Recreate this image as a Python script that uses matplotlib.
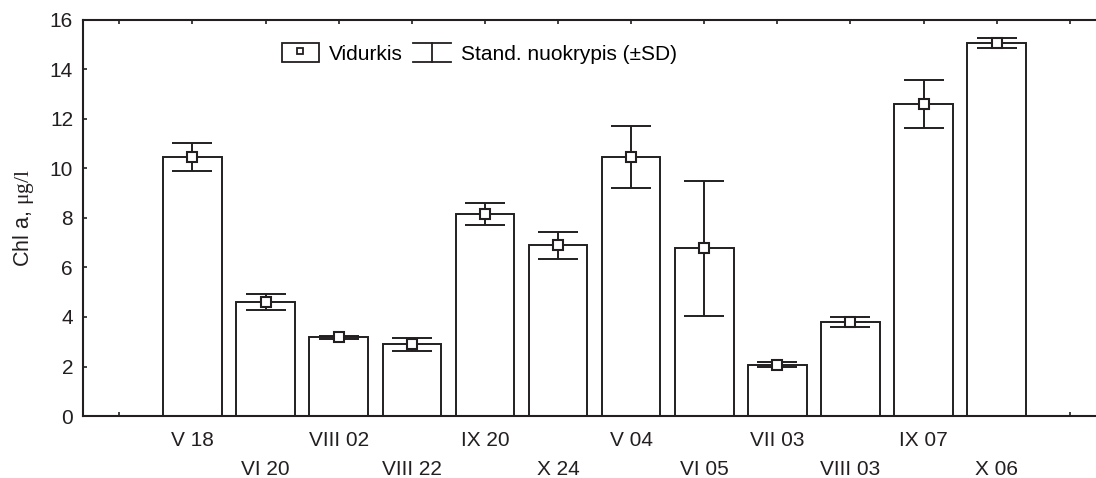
import matplotlib
matplotlib.use("Agg")
import matplotlib.pyplot as plt
from matplotlib.legend_handler import HandlerBase
from matplotlib.lines import Line2D
from matplotlib.patches import Rectangle

plt.rcParams['font.family'] = ['Liberation Sans', 'DejaVu Sans']
plt.rcParams['mathtext.fontset'] = 'custom'
plt.rcParams['mathtext.rm'] = 'Liberation Serif'

# sampling dates and Chl a values (mean, SD)
dates = ["V 18", "VI 20", "VIII 02", "VIII 22", "IX 20", "X 24",
         "V 04", "VI 05", "VII 03", "VIII 03", "IX 07", "X 06"]
means = [10.45, 4.6, 3.18, 2.9, 8.15, 6.9, 10.48, 6.78, 2.08, 3.81, 12.6, 15.08]
sds = [0.57, 0.31, 0.05, 0.26, 0.45, 0.55, 1.25, 2.73, 0.12, 0.2, 0.98, 0.2]

ink = "#231f20"


class SDKey:
    pass


class SDHandler(HandlerBase):
    # "I" shaped symbol for the SD whiskers
    def create_artists(self, legend, orig_handle, xdescent, ydescent,
                       width, height, fontsize, trans):
        x0, x1 = -xdescent, -xdescent + width
        y0, y1 = -ydescent, -ydescent + height
        xm = (x0 + x1) / 2
        segs = [([x0, x1], [y1, y1]), ([xm, xm], [y0, y1]), ([x0, x1], [y0, y0])]
        out = []
        for xs, ys in segs:
            ln = Line2D(xs, ys, color=ink, lw=1.3)
            ln.set_transform(trans)
            out.append(ln)
        return out


fig = plt.figure(figsize=(10.96, 4.78), dpi=100)
ax = fig.add_axes([0.0755, 0.1297, 0.934, 0.8285])

x = list(range(1, len(dates) + 1))
ax.bar(x, means, width=0.8, color="white", edgecolor=ink, linewidth=1.4, zorder=2)
ax.errorbar(x, means, yerr=sds, fmt="none", ecolor=ink, elinewidth=1.4,
            capsize=14.5, capthick=1.4, zorder=3)
ax.plot(x, means, ls="none", marker="s", ms=6.5, mfc="white", mec=ink, mew=1.5, zorder=4)

ax.set_xlim(-0.5, 13.5)
ax.set_ylim(0, 16)
ax.set_yticks(range(0, 17, 2))
ax.set_xticks(range(0, 14))
labels = [""]
for i, d in enumerate(dates):
    labels.append(d if i % 2 == 0 else "\n" + d)
labels.append("")
ax.set_xticklabels(labels)
for t in ax.get_xticklabels():
    t.set_linespacing(1.65)

ax.tick_params(axis="both", direction="in", length=3, width=1.2, colors=ink,
               labelsize=15, labelcolor=ink)
ax.tick_params(axis="x", top=True, pad=11)
ax.tick_params(axis="y", pad=7)
for s in ax.spines.values():
    s.set_linewidth(1.5)
    s.set_color(ink)

ax.set_ylabel(r"Chl a, $\mathrm{μg/l}$", fontsize=15.5, color=ink, labelpad=10)

mean_handle = (Rectangle((0, 0), 1, 1, facecolor="white", edgecolor=ink, lw=1.3),
               Line2D([], [], ls="none", marker="s", ms=5, mfc="white", mec=ink, mew=1.3))
ax.legend([mean_handle, SDKey()], ["Vidurkis", "Stand. nuokrypis (±SD)"],
          handler_map={SDKey: SDHandler()}, ncol=2, frameon=False,
          loc="upper left", bbox_to_anchor=(0.257, 0.91), bbox_transform=fig.transFigure,
          fontsize=15, handlelength=1.78, handleheight=1.06, handletextpad=0.5,
          columnspacing=0.5, borderpad=0, borderaxespad=0)

fig.savefig("out.png", dpi=100)
